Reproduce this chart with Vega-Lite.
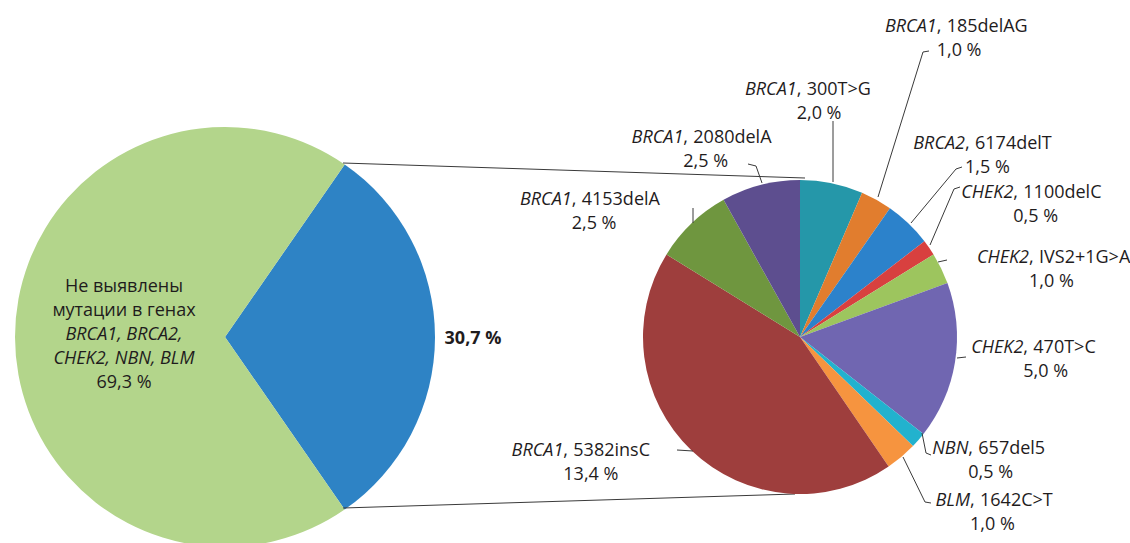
{
  "$schema": "https://vega.github.io/schema/vega-lite/v6.json",
  "width": 1130,
  "height": 543,
  "autosize": {"type": "none"},
  "padding": 0,
  "background": "#ffffff",
  "config": {
    "view": {"stroke": null},
    "axis": {"disable": true},
    "text": {"font": "Open Sans", "fontSize": 18, "color": "#1f1c1d", "baseline": "alphabetic", "lineBreak": "\n", "lineHeight": 24},
    "rule": {"stroke": "#3a3a3a", "strokeWidth": 1}
  },
  "datasets": {
    "overall": [
      {"rank": 1, "group": "Выявлены мутации", "value": 30.7, "pct": "30,7 %"},
      {"rank": 2, "group": "Не выявлены мутации", "value": 69.3, "pct": "69,3 %", "note": "Не выявлены\nмутации в генах", "genes": "BRCA1, BRCA2,\nCHEK2, NBN, BLM"}
    ],
    "mutations": [
      {"rank": 1, "gene": "BRCA1", "mutation": "300T>G", "value": 2.0, "pct": "2,0 %"},
      {"rank": 2, "gene": "BRCA1", "mutation": "185delAG", "value": 1.0, "pct": "1,0 %"},
      {"rank": 3, "gene": "BRCA2", "mutation": "6174delT", "value": 1.5, "pct": "1,5 %"},
      {"rank": 4, "gene": "CHEK2", "mutation": "1100delC", "value": 0.5, "pct": "0,5 %"},
      {"rank": 5, "gene": "CHEK2", "mutation": "IVS2+1G>A", "value": 1.0, "pct": "1,0 %"},
      {"rank": 6, "gene": "CHEK2", "mutation": "470T>C", "value": 5.0, "pct": "5,0 %"},
      {"rank": 7, "gene": "NBN", "mutation": "657del5", "value": 0.5, "pct": "0,5 %"},
      {"rank": 8, "gene": "BLM", "mutation": "1642C>T", "value": 1.0, "pct": "1,0 %"},
      {"rank": 9, "gene": "BRCA1", "mutation": "5382insC", "value": 13.4, "pct": "13,4 %"},
      {"rank": 10, "gene": "BRCA1", "mutation": "4153delA", "value": 2.5, "pct": "2,5 %"},
      {"rank": 11, "gene": "BRCA1", "mutation": "2080delA", "value": 2.5, "pct": "2,5 %"}
    ]
  },
  "resolve": {"scale": {"theta": "independent", "color": "independent"}},
  "layer": [
    {
      "data": {"name": "overall"},
      "mark": {"type": "arc", "outerRadius": 210},
      "encoding": {
        "x": {"datum": 225, "type": "quantitative", "scale": {"domain": [0, 1130], "nice": false, "zero": false}, "axis": null},
        "y": {"datum": 337, "type": "quantitative", "scale": {"domain": [0, 543], "nice": false, "zero": false, "reverse": true}, "axis": null},
        "theta": {"field": "value", "type": "quantitative", "stack": true, "scale": {"range": [0.6065, 6.8897]}},
        "order": {"field": "rank", "type": "quantitative"},
        "color": {"field": "group", "type": "nominal", "legend": null, "scale": {"domain": ["Выявлены мутации", "Не выявлены мутации"], "range": ["#2e83c5", "#b3d58b"]}}
      }
    },
    {
      "data": {"name": "overall"},
      "transform": [{"filter": {"field": "rank", "equal": 1}}],
      "layer": [
        {"mark": "rule", "encoding": {"x": {"datum": 343}, "y": {"datum": 163}, "x2": {"datum": 805}, "y2": {"datum": 178}}},
        {"mark": "rule", "encoding": {"x": {"datum": 343}, "y": {"datum": 508}, "x2": {"datum": 795}, "y2": {"datum": 494}}},
        {"mark": {"type": "text", "align": "center", "fontWeight": "bold"}, "encoding": {"x": {"datum": 473}, "y": {"datum": 344}, "text": {"field": "pct"}}}
      ]
    },
    {
      "data": {"name": "mutations"},
      "mark": {"type": "arc", "outerRadius": 157},
      "encoding": {
        "x": {"datum": 800, "type": "quantitative"},
        "y": {"datum": 337, "type": "quantitative"},
        "theta": {"field": "value", "type": "quantitative", "stack": true},
        "order": {"field": "rank", "type": "quantitative"},
        "color": {"field": "mutation", "type": "nominal", "legend": null, "scale": {
          "domain": ["300T>G", "185delAG", "6174delT", "1100delC", "IVS2+1G>A", "470T>C", "657del5", "1642C>T", "5382insC", "4153delA", "2080delA"],
          "range": ["#2597a9", "#e17d2e", "#2c82cb", "#d8403f", "#9dc55e", "#7066b1", "#22b2ce", "#f6943f", "#9e3e3d", "#6f963f", "#5d4e8f"]}}
      }
    },
    {
      "data": {"name": "overall"},
      "transform": [{"filter": {"field": "rank", "equal": 2}}],
      "encoding": {"x": {"datum": 124, "type": "quantitative"}},
      "layer": [
        {"mark": {"type": "text", "align": "center"}, "encoding": {"y": {"datum": 292}, "text": {"field": "note"}}},
        {"mark": {"type": "text", "align": "center", "fontStyle": "italic"}, "encoding": {"y": {"datum": 340}, "text": {"field": "genes"}}},
        {"mark": {"type": "text", "align": "center"}, "encoding": {"y": {"datum": 388}, "text": {"field": "pct"}}}
      ]
    },
    {
      "data": {"name": "mutations"},
      "transform": [{"filter": {"field": "mutation", "equal": "300T>G"}}],
      "encoding": {"x": {"datum": 796.7, "type": "quantitative"}, "y": {"datum": 95, "type": "quantitative"}},
      "layer": [
        {"mark": {"type": "text", "align": "right", "fontStyle": "italic"}, "encoding": {"text": {"field": "gene"}}},
        {"mark": {"type": "text", "align": "left"}, "encoding": {"text": {"value": ","}}},
        {"mark": {"type": "text", "align": "left", "dx": 10}, "encoding": {"text": {"field": "mutation"}}},
        {"mark": {"type": "text", "align": "left", "dy": 24}, "encoding": {"text": {"field": "pct"}}},
        {"mark": "rule", "encoding": {"x": {"datum": 833}, "y": {"datum": 182}, "x2": {"datum": 833}, "y2": {"datum": 121}}}
      ]
    },
    {
      "data": {"name": "mutations"},
      "transform": [{"filter": {"field": "mutation", "equal": "185delAG"}}],
      "encoding": {"x": {"datum": 936.7, "type": "quantitative"}, "y": {"datum": 32, "type": "quantitative"}},
      "layer": [
        {"mark": {"type": "text", "align": "right", "fontStyle": "italic"}, "encoding": {"text": {"field": "gene"}}},
        {"mark": {"type": "text", "align": "left"}, "encoding": {"text": {"value": ","}}},
        {"mark": {"type": "text", "align": "left", "dx": 10}, "encoding": {"text": {"field": "mutation"}}},
        {"mark": {"type": "text", "align": "left", "dy": 24}, "encoding": {"text": {"field": "pct"}}},
        {"mark": "rule", "encoding": {"x": {"datum": 878}, "y": {"datum": 197}, "x2": {"datum": 923}, "y2": {"datum": 52}}},
        {"mark": "rule", "encoding": {"x": {"datum": 923}, "y": {"datum": 52}, "x2": {"datum": 929}, "y2": {"datum": 51}}}
      ]
    },
    {
      "data": {"name": "mutations"},
      "transform": [{"filter": {"field": "mutation", "equal": "6174delT"}}],
      "encoding": {"x": {"datum": 965, "type": "quantitative"}, "y": {"datum": 149.3, "type": "quantitative"}},
      "layer": [
        {"mark": {"type": "text", "align": "right", "fontStyle": "italic"}, "encoding": {"text": {"field": "gene"}}},
        {"mark": {"type": "text", "align": "left"}, "encoding": {"text": {"value": ","}}},
        {"mark": {"type": "text", "align": "left", "dx": 10}, "encoding": {"text": {"field": "mutation"}}},
        {"mark": {"type": "text", "align": "left", "dy": 24}, "encoding": {"text": {"field": "pct"}}},
        {"mark": "rule", "encoding": {"x": {"datum": 911}, "y": {"datum": 223}, "x2": {"datum": 956}, "y2": {"datum": 169}}},
        {"mark": "rule", "encoding": {"x": {"datum": 956}, "y": {"datum": 169}, "x2": {"datum": 962}, "y2": {"datum": 167}}}
      ]
    },
    {
      "data": {"name": "mutations"},
      "transform": [{"filter": {"field": "mutation", "equal": "1100delC"}}],
      "encoding": {"x": {"datum": 1013.3, "type": "quantitative"}, "y": {"datum": 198, "type": "quantitative"}},
      "layer": [
        {"mark": {"type": "text", "align": "right", "fontStyle": "italic"}, "encoding": {"text": {"field": "gene"}}},
        {"mark": {"type": "text", "align": "left"}, "encoding": {"text": {"value": ","}}},
        {"mark": {"type": "text", "align": "left", "dx": 10}, "encoding": {"text": {"field": "mutation"}}},
        {"mark": {"type": "text", "align": "left", "dy": 24}, "encoding": {"text": {"field": "pct"}}},
        {"mark": "rule", "encoding": {"x": {"datum": 930}, "y": {"datum": 245}, "x2": {"datum": 954}, "y2": {"datum": 189}}},
        {"mark": "rule", "encoding": {"x": {"datum": 954}, "y": {"datum": 189}, "x2": {"datum": 960}, "y2": {"datum": 187}}}
      ]
    },
    {
      "data": {"name": "mutations"},
      "transform": [{"filter": {"field": "mutation", "equal": "IVS2+1G>A"}}],
      "encoding": {"x": {"datum": 1029, "type": "quantitative"}, "y": {"datum": 263.3, "type": "quantitative"}},
      "layer": [
        {"mark": {"type": "text", "align": "right", "fontStyle": "italic"}, "encoding": {"text": {"field": "gene"}}},
        {"mark": {"type": "text", "align": "left"}, "encoding": {"text": {"value": ","}}},
        {"mark": {"type": "text", "align": "left", "dx": 10}, "encoding": {"text": {"field": "mutation"}}},
        {"mark": {"type": "text", "align": "left", "dy": 24}, "encoding": {"text": {"field": "pct"}}},
        {"mark": "rule", "encoding": {"x": {"datum": 938}, "y": {"datum": 262}, "x2": {"datum": 947}, "y2": {"datum": 260}}}
      ]
    },
    {
      "data": {"name": "mutations"},
      "transform": [{"filter": {"field": "mutation", "equal": "470T>C"}}],
      "encoding": {"x": {"datum": 1023.3, "type": "quantitative"}, "y": {"datum": 353.3, "type": "quantitative"}},
      "layer": [
        {"mark": {"type": "text", "align": "right", "fontStyle": "italic"}, "encoding": {"text": {"field": "gene"}}},
        {"mark": {"type": "text", "align": "left"}, "encoding": {"text": {"value": ","}}},
        {"mark": {"type": "text", "align": "left", "dx": 10}, "encoding": {"text": {"field": "mutation"}}},
        {"mark": {"type": "text", "align": "left", "dy": 24}, "encoding": {"text": {"field": "pct"}}},
        {"mark": "rule", "encoding": {"x": {"datum": 957}, "y": {"datum": 358}, "x2": {"datum": 966}, "y2": {"datum": 357}}}
      ]
    },
    {
      "data": {"name": "mutations"},
      "transform": [{"filter": {"field": "mutation", "equal": "657del5"}}],
      "encoding": {"x": {"datum": 968.3, "type": "quantitative"}, "y": {"datum": 454.3, "type": "quantitative"}},
      "layer": [
        {"mark": {"type": "text", "align": "right", "fontStyle": "italic"}, "encoding": {"text": {"field": "gene"}}},
        {"mark": {"type": "text", "align": "left"}, "encoding": {"text": {"value": ","}}},
        {"mark": {"type": "text", "align": "left", "dx": 10}, "encoding": {"text": {"field": "mutation"}}},
        {"mark": {"type": "text", "align": "left", "dy": 24}, "encoding": {"text": {"field": "pct"}}},
        {"mark": "rule", "encoding": {"x": {"datum": 922}, "y": {"datum": 433}, "x2": {"datum": 926}, "y2": {"datum": 453}}},
        {"mark": "rule", "encoding": {"x": {"datum": 926}, "y": {"datum": 453}, "x2": {"datum": 931}, "y2": {"datum": 455}}}
      ]
    },
    {
      "data": {"name": "mutations"},
      "transform": [{"filter": {"field": "mutation", "equal": "1642C>T"}}],
      "encoding": {"x": {"datum": 970, "type": "quantitative"}, "y": {"datum": 506, "type": "quantitative"}},
      "layer": [
        {"mark": {"type": "text", "align": "right", "fontStyle": "italic"}, "encoding": {"text": {"field": "gene"}}},
        {"mark": {"type": "text", "align": "left"}, "encoding": {"text": {"value": ","}}},
        {"mark": {"type": "text", "align": "left", "dx": 10}, "encoding": {"text": {"field": "mutation"}}},
        {"mark": {"type": "text", "align": "left", "dy": 24}, "encoding": {"text": {"field": "pct"}}},
        {"mark": "rule", "encoding": {"x": {"datum": 903}, "y": {"datum": 457}, "x2": {"datum": 925}, "y2": {"datum": 502}}},
        {"mark": "rule", "encoding": {"x": {"datum": 925}, "y": {"datum": 502}, "x2": {"datum": 931}, "y2": {"datum": 503}}}
      ]
    },
    {
      "data": {"name": "mutations"},
      "transform": [{"filter": {"field": "mutation", "equal": "5382insC"}}],
      "encoding": {"x": {"datum": 563.3, "type": "quantitative"}, "y": {"datum": 456, "type": "quantitative"}},
      "layer": [
        {"mark": {"type": "text", "align": "right", "fontStyle": "italic"}, "encoding": {"text": {"field": "gene"}}},
        {"mark": {"type": "text", "align": "left"}, "encoding": {"text": {"value": ","}}},
        {"mark": {"type": "text", "align": "left", "dx": 10}, "encoding": {"text": {"field": "mutation"}}},
        {"mark": {"type": "text", "align": "left", "dy": 24}, "encoding": {"text": {"field": "pct"}}},
        {"mark": "rule", "encoding": {"x": {"datum": 677}, "y": {"datum": 450}, "x2": {"datum": 693}, "y2": {"datum": 451}}}
      ]
    },
    {
      "data": {"name": "mutations"},
      "transform": [{"filter": {"field": "mutation", "equal": "4153delA"}}],
      "encoding": {"x": {"datum": 571.7, "type": "quantitative"}, "y": {"datum": 205, "type": "quantitative"}},
      "layer": [
        {"mark": {"type": "text", "align": "right", "fontStyle": "italic"}, "encoding": {"text": {"field": "gene"}}},
        {"mark": {"type": "text", "align": "left"}, "encoding": {"text": {"value": ","}}},
        {"mark": {"type": "text", "align": "left", "dx": 10}, "encoding": {"text": {"field": "mutation"}}},
        {"mark": {"type": "text", "align": "left", "dy": 24}, "encoding": {"text": {"field": "pct"}}},
        {"mark": "rule", "encoding": {"x": {"datum": 693}, "y": {"datum": 208}, "x2": {"datum": 693}, "y2": {"datum": 223}}}
      ]
    },
    {
      "data": {"name": "mutations"},
      "transform": [{"filter": {"field": "mutation", "equal": "2080delA"}}],
      "encoding": {"x": {"datum": 683.3, "type": "quantitative"}, "y": {"datum": 143.2, "type": "quantitative"}},
      "layer": [
        {"mark": {"type": "text", "align": "right", "fontStyle": "italic"}, "encoding": {"text": {"field": "gene"}}},
        {"mark": {"type": "text", "align": "left"}, "encoding": {"text": {"value": ","}}},
        {"mark": {"type": "text", "align": "left", "dx": 10}, "encoding": {"text": {"field": "mutation"}}},
        {"mark": {"type": "text", "align": "left", "dy": 24}, "encoding": {"text": {"field": "pct"}}},
        {"mark": "rule", "encoding": {"x": {"datum": 762}, "y": {"datum": 183}, "x2": {"datum": 756}, "y2": {"datum": 166}}},
        {"mark": "rule", "encoding": {"x": {"datum": 756}, "y": {"datum": 166}, "x2": {"datum": 748}, "y2": {"datum": 164}}}
      ]
    }
  ]
}
